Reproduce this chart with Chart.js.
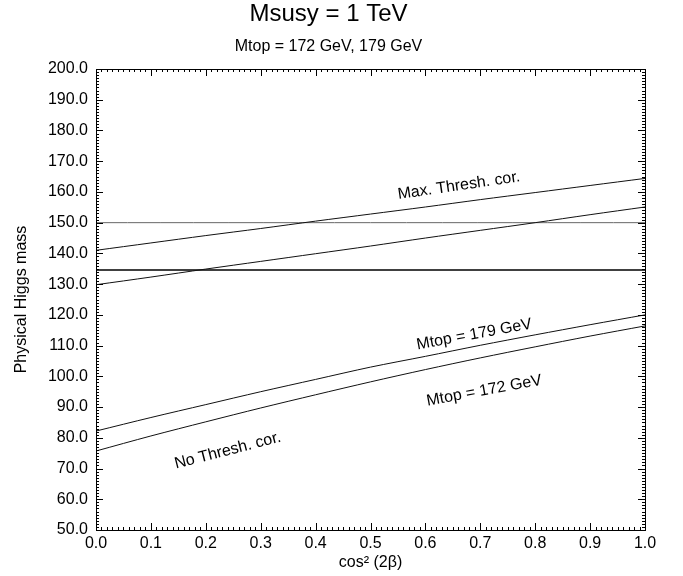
<!DOCTYPE html>
<html>
<head>
<meta charset="utf-8">
<script src="https://cdn.jsdelivr.net/npm/chart.js@4.4.1/dist/chart.umd.min.js"></script>
<style>
  html, body { margin: 0; padding: 0; background: #fff; }
  #wrap { width: 683px; height: 576px; }
</style>
</head>
<body>
<div id="wrap"><canvas id="higgsChart"></canvas></div>
<script>
// cos^2(2 beta) sample points
const cos2b = [0.0, 0.1, 0.2, 0.3, 0.4, 0.5, 0.6, 0.7, 0.8, 0.9, 1.0];

// Physical Higgs mass
const maxThresh179 = [141.0, 143.4, 145.8, 148.1, 150.5, 152.8, 155.1, 157.5, 159.8, 162.1, 164.4];
const maxThresh172 = [129.8, 132.3, 134.9, 137.4, 139.9, 142.4, 145.0, 147.5, 150.0, 152.6, 155.1];
const noThresh179 = [82.2, 86.6, 90.8, 95.0, 99.0, 103.0, 106.5, 110.1, 113.5, 116.8, 120.0];
const noThresh172 = [75.7, 80.6, 85.2, 89.7, 94.0, 98.2, 102.2, 106.0, 109.6, 113.1, 116.4];

// horizontal reference lines (x from 0 to 1)
const refX = [0.0, 1.0];
const refGray = [150.0, 150.0];
const refBlack = [134.6, 134.6];

// text labels along the curves: [text, x, y, angle in degrees]
const curveLabels = [
  ['Max. Thresh. cor.', 0.661, 162.0, -8.3],
  ['Mtop = 179 GeV', 0.689, 113.6, -10.4],
  ['Mtop = 172 GeV', 0.707, 95.3, -10.4],
  ['No Thresh. cor.', 0.240, 75.8, -14.4]
];

const FONT = '"Liberation Sans", Arial, Helvetica, sans-serif';

function pts(xs, ys) {
  return xs.map((x, i) => ({ x, y: ys[i] }));
}

function lineSet(xs, ys, color, width) {
  return {
    data: pts(xs, ys),
    borderColor: color,
    borderWidth: width,
    pointRadius: 0,
    tension: 0.3,
    fill: false
  };
}

// box frame + inward major/minor ticks on all four sides, plus curve labels
const frameTicks = {
  id: 'frameTicks',
  afterDatasetsDraw(chart) {
    const { ctx, chartArea: a, scales: { x, y } } = chart;
    ctx.save();
    ctx.strokeStyle = '#000';
    ctx.lineWidth = 1;
    ctx.strokeRect(Math.round(a.left) + 0.5, Math.round(a.top) + 0.5,
      Math.round(a.right - a.left), Math.round(a.bottom - a.top));
    ctx.beginPath();
    for (let i = 0; i <= 100; i++) {
      const px = Math.round(x.getPixelForValue(i / 100)) + 0.5;
      const len = i % 10 === 0 ? 7 : 3;
      ctx.moveTo(px, a.bottom); ctx.lineTo(px, a.bottom - len);
      ctx.moveTo(px, a.top); ctx.lineTo(px, a.top + len);
    }
    for (let v = 50; v <= 200; v++) {
      const py = Math.round(y.getPixelForValue(v)) + 0.5;
      const len = v % 10 === 0 ? 7 : 3;
      ctx.moveTo(a.left, py); ctx.lineTo(a.left + len, py);
      ctx.moveTo(a.right, py); ctx.lineTo(a.right - len, py);
    }
    ctx.stroke();

    ctx.fillStyle = '#000';
    ctx.font = '16px ' + FONT;
    ctx.textAlign = 'center';
    ctx.textBaseline = 'middle';
    curveLabels.forEach(([text, vx, vy, ang]) => {
      ctx.save();
      ctx.translate(x.getPixelForValue(vx), y.getPixelForValue(vy));
      ctx.rotate(ang * Math.PI / 180);
      ctx.fillText(text, 0, 0);
      ctx.restore();
    });
    ctx.restore();
  }
};

new Chart(document.getElementById('higgsChart'), {
  type: 'line',
  data: {
    datasets: [
      lineSet(cos2b, maxThresh179, '#111', 1),
      lineSet(cos2b, maxThresh172, '#111', 1),
      lineSet(cos2b, noThresh179, '#111', 1),
      lineSet(cos2b, noThresh172, '#111', 1),
      lineSet(refX, refGray, '#666', 1),
      lineSet(refX, refBlack, '#000', 1.6)
    ]
  },
  options: {
    responsive: true,
    maintainAspectRatio: false,
    animation: false,
    layout: { padding: { left: 12, right: 38, bottom: 4 } },
    plugins: {
      legend: { display: false },
      tooltip: { enabled: false },
      title: {
        display: true,
        text: 'Msusy = 1 TeV',
        color: '#000',
        font: { family: FONT, size: 24, weight: 'normal' },
        padding: { top: 0, bottom: 8 }
      },
      subtitle: {
        display: true,
        text: 'Mtop = 172 GeV, 179 GeV',
        color: '#000',
        font: { family: FONT, size: 16 },
        padding: { top: 0, bottom: 13 }
      }
    },
    scales: {
      x: {
        type: 'linear',
        min: 0,
        max: 1,
        grid: { display: false, drawTicks: false },
        border: { display: false },
        ticks: {
          stepSize: 0.1,
          color: '#000',
          padding: 4,
          maxRotation: 0,
          font: { family: FONT, size: 16 },
          callback: v => Number(v).toFixed(1)
        },
        title: {
          display: true,
          text: 'cos² (2β)',
          color: '#000',
          padding: { top: 0, bottom: 0 },
          font: { family: FONT, size: 16 }
        },
        afterFit: s => { s.height = 42; }
      },
      y: {
        type: 'linear',
        min: 50,
        max: 200,
        grid: { display: false, drawTicks: false },
        border: { display: false },
        ticks: {
          stepSize: 10,
          color: '#000',
          padding: 8,
          font: { family: FONT, size: 16 },
          callback: v => Number(v).toFixed(1)
        },
        title: {
          display: true,
          text: 'Physical Higgs mass',
          color: '#000',
          padding: { top: 0, bottom: 6 },
          font: { family: FONT, size: 16 }
        },
        afterFit: s => { s.width = 84; }
      }
    }
  },
  plugins: [frameTicks]
});
</script>
</body>
</html>
